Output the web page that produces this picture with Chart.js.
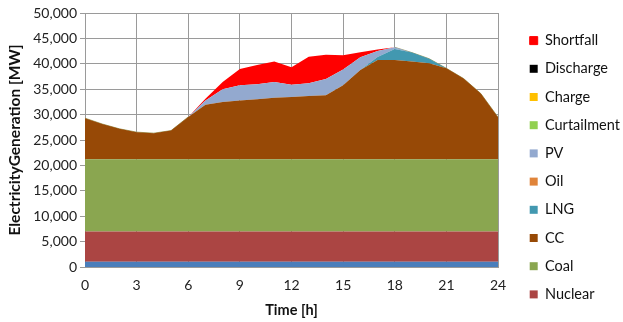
<!DOCTYPE html>
<html>
<head>
<meta charset="utf-8">
<script src="https://cdn.jsdelivr.net/npm/chart.js@4"></script>
<style>
  html, body { margin: 0; padding: 0; background: #fff; }
  #wrap { width: 623px; height: 322px; }
</style>
</head>
<body>
<div id="wrap"><canvas id="genChart" width="623" height="322"></canvas></div>
<script>
// hourly dispatch, MW (stacked, bottom to top)
const hours = [0, 1, 2, 3, 4, 5, 6, 7, 8, 9, 10, 11, 12, 13, 14, 15, 16, 17, 18, 19, 20, 21, 22, 23, 24];
const hydro = [1050, 1050, 1050, 1050, 1050, 1050, 1050, 1050, 1050, 1050, 1050, 1050, 1050, 1050, 1050, 1050, 1050, 1050, 1050, 1050, 1050, 1050, 1050, 1050, 1050];
const nuclear = [5950, 5950, 5950, 5950, 5950, 5950, 5950, 5950, 5950, 5950, 5950, 5950, 5950, 5950, 5950, 5950, 5950, 5950, 5950, 5950, 5950, 5950, 5950, 5950, 5950];
const coal = [14200, 14200, 14200, 14200, 14200, 14200, 14200, 14200, 14200, 14200, 14200, 14200, 14200, 14200, 14200, 14200, 14200, 14200, 14200, 14200, 14200, 14200, 14200, 14200, 14200];
const cc = [8100, 6950, 6000, 5350, 5150, 5650, 8350, 10750, 11300, 11600, 11800, 12130, 12260, 12460, 12590, 14600, 17600, 19540, 19540, 19270, 18900, 17900, 15900, 12950, 8300];
const lng = [0, 0, 0, 0, 0, 0, 0, 0, 0, 0, 0, 0, 0, 0, 0, 0, 0, 600, 2160, 1730, 900, 0, 0, 0, 0];
const oil = [0, 0, 0, 0, 0, 0, 0, 0, 0, 0, 0, 0, 0, 0, 0, 0, 0, 0, 0, 0, 0, 0, 0, 0, 0];
const pv = [0, 0, 0, 0, 0, 0, 0, 850, 2500, 2980, 2980, 3110, 2400, 2500, 3200, 3100, 2500, 1200, 350, 0, 0, 0, 0, 0, 0];
const curtailment = [0, 0, 0, 0, 0, 0, 0, 0, 0, 0, 0, 0, 0, 0, 0, 0, 0, 0, 0, 0, 0, 0, 0, 0, 0];
const charge = [0, 0, 0, 0, 0, 0, 0, 0, 0, 0, 0, 0, 0, 0, 0, 0, 0, 0, 0, 0, 0, 0, 0, 0, 0];
const discharge = [0, 0, 0, 0, 0, 0, 0, 0, 0, 0, 0, 0, 0, 0, 0, 0, 0, 0, 0, 0, 0, 0, 0, 0, 0];
const shortfall = [0, 0, 0, 0, 0, 0, 0, 330, 1440, 3180, 3760, 4000, 3480, 5250, 4800, 2800, 970, 280, 0, 0, 0, 0, 0, 0, 0];

const series = [
  ["Hydro", hydro, "#4a7ebb"],
  ["Nuclear", nuclear, "#ab4543"],
  ["Coal", coal, "#8aa650"],
  ["CC", cc, "#974906"],
  ["LNG", lng, "#4298b0"],
  ["Oil", oil, "#e0843a"],
  ["PV", pv, "#93a9cf"],
  ["Curtailment", curtailment, "#92d050"],
  ["Charge", charge, "#ffc000"],
  ["Discharge", discharge, "#000000"],
  ["Shortfall", shortfall, "#ff0000"]
];

const edge = "#a6a56c";

const datasets = series.map(([name, vals, color], i) => {
  const ds = {
    label: name,
    data: hours.map((h, k) => ({ x: h, y: vals[k] })),
    backgroundColor: color,
    borderColor: color,
    borderWidth: 0,
    pointRadius: 0,
    tension: 0,
    fill: i === 0 ? "origin" : "-1"
  };
  if (name === "Shortfall") {
    ds.borderWidth = 1;
    ds.segment = {
      borderColor: ctx => (shortfall[ctx.p0DataIndex] === 0 && shortfall[ctx.p1DataIndex] === 0) ? edge : "rgba(0,0,0,0)"
    };
  }
  return ds;
});

const font = "Lato, 'Open Sans', sans-serif";

// keep the legend column narrow so it sits like the original
const legendWidth = {
  id: "legendWidth",
  beforeLayout(chart) {
    const lg = chart.legend;
    if (lg && !lg._narrowed) {
      const fit = lg.fit.bind(lg);
      lg.fit = function () { fit(); this.width = 107; };
      lg._narrowed = true;
    }
  }
};

new Chart(document.getElementById("genChart"), {
  type: "line",
  data: { datasets: datasets },
  plugins: [legendWidth],
  options: {
    responsive: false,
    animation: false,
    layout: { padding: { top: 13, right: 0, bottom: 0, left: 0 } },
    plugins: {
      tooltip: { enabled: false },
      legend: {
        position: "right",
        reverse: true,
        labels: {
          boxWidth: 8,
          boxHeight: 8,
          padding: 13.7,
          color: "#111",
          font: { family: font, size: 14.5 },
          filter: item => item.text !== "Hydro"
        }
      }
    },
    scales: {
      x: {
        type: "linear",
        min: 0,
        max: 24,
        ticks: { stepSize: 3, color: "#222", font: { family: font, size: 14 }, padding: 10 },
        grid: { color: "#9a9a9a", drawTicks: false },
        border: { color: "#9a9a9a" },
        title: { display: true, text: "Time [h]", color: "#111", font: { family: font, size: 14.5, weight: "bold" }, padding: { top: 0, bottom: 3 } },
        afterFit: s => { s.height = 55; }
      },
      y: {
        stacked: true,
        min: 0,
        max: 50000,
        ticks: {
          stepSize: 5000,
          color: "#222",
          font: { family: font, size: 14 },
          padding: 3,
          callback: v => v.toLocaleString("en-US")
        },
        grid: { color: "#9a9a9a", tickLength: 5 },
        border: { color: "#9a9a9a" },
        title: { display: true, text: "ElectricityGeneration [MW]", color: "#111", font: { family: font, size: 15.5, weight: "bold" }, padding: { top: 6, bottom: 0 } },
        afterFit: s => { s.width = 85; }
      },
      gap: {
        type: "linear",
        position: "right",
        grid: { display: false, drawTicks: false },
        border: { display: false },
        ticks: { display: false },
        afterFit: s => { s.width = 18; }
      }
    }
  }
});
</script>
</body>
</html>
